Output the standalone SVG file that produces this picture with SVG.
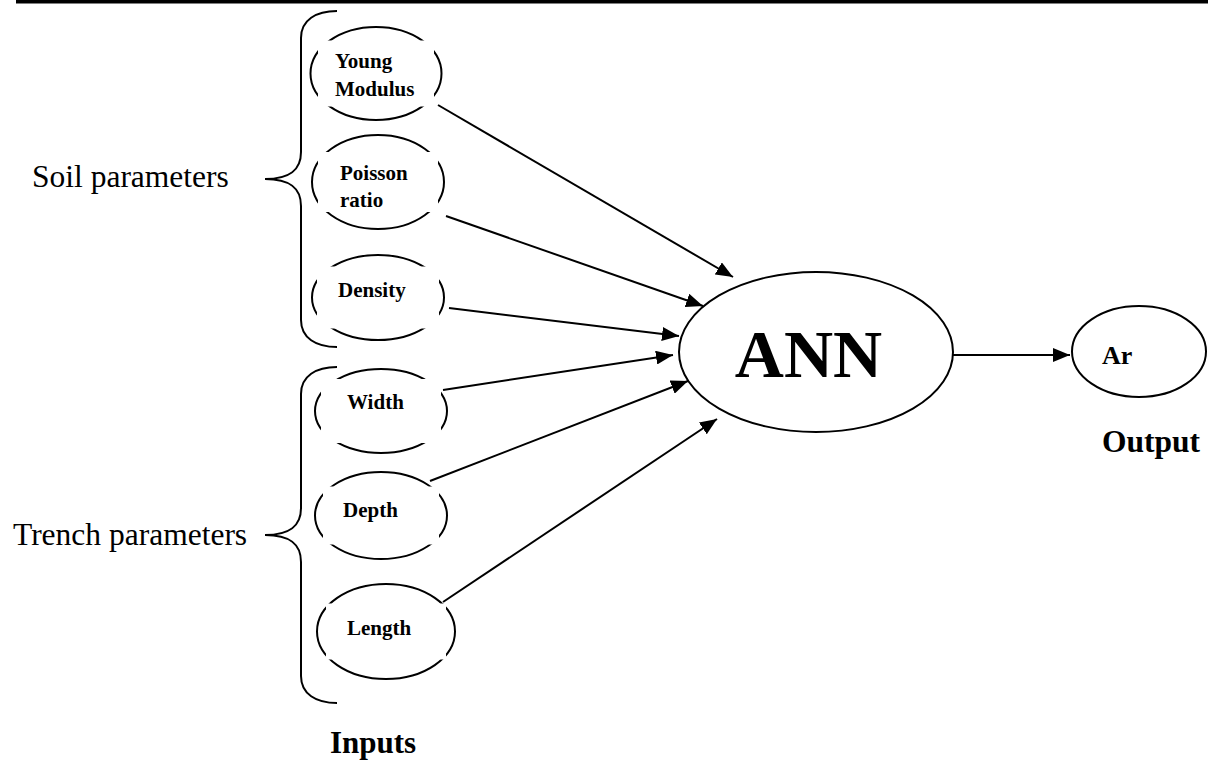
<svg xmlns="http://www.w3.org/2000/svg" width="1208" height="769" viewBox="0 0 1208 769">
<defs>
<style>
.el{fill:none;stroke:#000;stroke-width:2}
.mask{fill:#fff;stroke:none}
.lbl{font-family:"Liberation Serif","Times New Roman",serif;font-weight:bold;font-size:21px;fill:#000}
.big{font-family:"Liberation Serif","Times New Roman",serif;fill:#000}
.conn{fill:none;stroke:#000;stroke-width:2}
.brace{fill:none;stroke:#000;stroke-width:2}
</style>
<marker id="arr" markerUnits="userSpaceOnUse" viewBox="0 0 17 14" refX="17" refY="7" markerWidth="17" markerHeight="14" orient="auto">
<path d="M0,0 L17,7 L0,14 z" fill="#000"/>
</marker>
</defs>
<rect x="0" y="0" width="1208" height="769" fill="#fff"/>
<rect x="16" y="0" width="1192" height="3.5" fill="#000"/>

<g id="braces">
<path class="brace" d="M337 11 C316 11 301 20 301 38 L301 152 C301 170 290 179 265 179 C290 179 301 188 301 206 L301 320 C301 338 316 347 337 347"/>
<path class="brace" d="M337 367 C316 367 301 376 301 394 L301 508 C301 526 290 535 265 535 C290 535 301 544 301 562 L301 676 C301 694 316 703 337 703"/>
</g>
<g id="group-labels">
<text class="big" x="32" y="187" font-size="31.5">Soil parameters</text>
<text class="big" x="13" y="545" font-size="31.5">Trench parameters</text>
<text class="big" x="330" y="753" font-size="31" font-weight="bold">Inputs</text>
<text class="big" x="1102" y="452" font-size="31.5" font-weight="bold">Output</text>
</g>

<g id="connectors">
<line class="conn" x1="438" y1="105" x2="733" y2="277" marker-end="url(#arr)"/>
<line class="conn" x1="446" y1="216" x2="703" y2="306" marker-end="url(#arr)"/>
<line class="conn" x1="449" y1="308" x2="679" y2="336" marker-end="url(#arr)"/>
<line class="conn" x1="443" y1="390" x2="673" y2="355" marker-end="url(#arr)"/>
<line class="conn" x1="430" y1="481" x2="688" y2="381" marker-end="url(#arr)"/>
<line class="conn" x1="443" y1="602" x2="717" y2="419" marker-end="url(#arr)"/>
<line class="conn" x1="953" y1="355" x2="1070" y2="355" marker-end="url(#arr)"/>
</g>

<g id="young-modulus">
<ellipse class="el" cx="376" cy="73.5" rx="65.5" ry="46.5"/>
<rect class="mask" x="318" y="40.5" width="116" height="66"/>
<text class="lbl" x="335" y="68">Young</text>
<text class="lbl" x="335" y="95.5">Modulus</text>
</g>
<g id="poisson-ratio">
<ellipse class="el" cx="378" cy="182" rx="66" ry="47"/>
<rect class="mask" x="318" y="152" width="120" height="60"/>
<text class="lbl" x="340" y="180">Poisson</text>
<text class="lbl" x="340" y="206.5">ratio</text>
</g>
<g id="density">
<ellipse class="el" cx="378" cy="297.5" rx="66" ry="42.5"/>
<rect class="mask" x="317" y="266.5" width="122" height="62"/>
<text class="lbl" x="338" y="296.5">Density</text>
</g>
<g id="width">
<ellipse class="el" cx="381" cy="411" rx="66" ry="42"/>
<rect class="mask" x="321" y="379" width="120" height="64"/>
<text class="lbl" x="347" y="409">Width</text>
</g>
<g id="depth">
<ellipse class="el" cx="381" cy="515.5" rx="66" ry="43.5"/>
<rect class="mask" x="323" y="486.5" width="116" height="58"/>
<text class="lbl" x="343" y="517">Depth</text>
</g>
<g id="length">
<ellipse class="el" cx="386" cy="631.5" rx="69" ry="47.5"/>
<rect class="mask" x="326" y="603.5" width="120" height="56"/>
<text class="lbl" x="347" y="635">Length</text>
</g>
<g id="ann">
<ellipse class="el" cx="816" cy="352" rx="137" ry="80"/>
<text class="big" x="808.5" y="377" font-size="68" font-weight="bold" text-anchor="middle">ANN</text>
</g>
<g id="ar">
<ellipse class="el" cx="1139" cy="351.5" rx="67" ry="45.5"/>
<rect class="mask" x="1083" y="328" width="97" height="47"/>
<text class="lbl" x="1102" y="364" style="font-size:26px">Ar</text>
</g>
</svg>
